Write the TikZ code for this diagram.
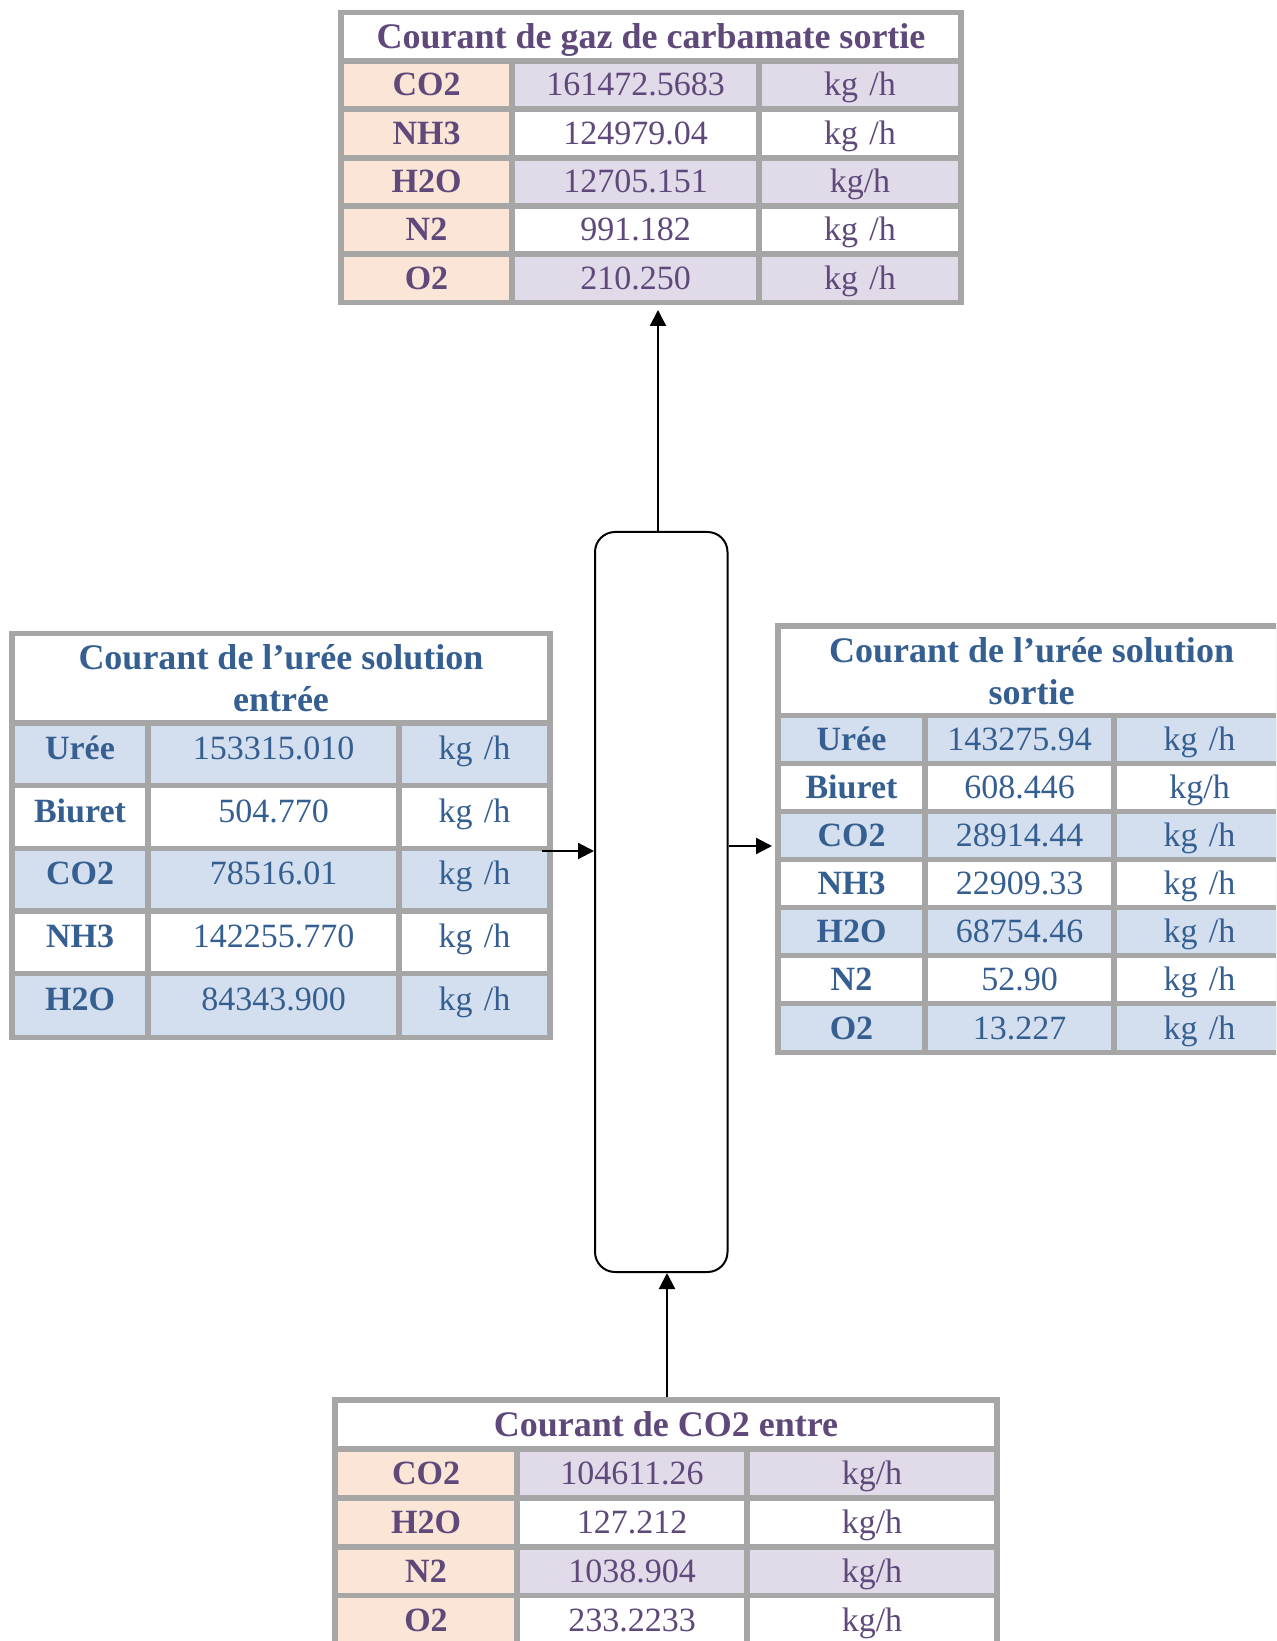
\documentclass[tikz,border=0pt]{standalone}
\usepackage{fontspec}
\setmainfont{Liberation Serif}
\usetikzlibrary{arrows.meta,fit}
\definecolor{gridgray}{HTML}{A6A6A6}
\definecolor{peach}{HTML}{FBE5D6}
\definecolor{lav}{HTML}{E0DAE9}
\definecolor{purp}{HTML}{5F497A}
\definecolor{bluet}{HTML}{365F91}
\definecolor{bluef}{HTML}{D3DFEE}
\newcommand{\kgs}{kg\hspace{0.33em}/h}
\newcommand{\kgn}{kg/h}
\newcommand{\mycell}[8]{%
  \path[fill=#6] (#2+2.75,#3+2.75) rectangle (#4-2.75,#5-2.75);
  \node[#7] (#1) at ({(#2+#4)/2},{(#3+#5)/2}) {#8};
}
\tikzset{
  celltxt/.style={text height=11pt, text depth=0pt},
  ttlP/.style={text height=12pt, text depth=0pt, font=\fontsize{18}{21}\selectfont\bfseries, text=purp, align=center},
  labP/.style={celltxt, font=\fontsize{17}{20}\selectfont\bfseries, text=purp},
  valP/.style={celltxt, font=\fontsize{17}{20}\selectfont, text=purp},
  ttlB/.style={font=\fontsize{18}{21}\selectfont\bfseries, text=bluet, align=center},
  labB/.style={celltxt, font=\fontsize{17}{20}\selectfont\bfseries, text=bluet},
  valB/.style={celltxt, font=\fontsize{17}{20}\selectfont, text=bluet},
  tabbg/.style={inner sep=0pt, fill=gridgray},
  arr/.style={line width=1.1pt, -{Triangle[length=8pt,width=8pt]}},
  column/.style={draw, line width=1pt, rounded corners=10pt, minimum width=66.25pt, minimum height=370pt, inner sep=0pt}
}
\begin{document}
\begin{tikzpicture}[x=0.5pt,y=-0.5pt]
\useasboundingbox (0,0) rectangle (1276,1641);
\clip (0,0) rectangle (1276,1641);
\fill[white] (0,0) rectangle (1276,1641);

% ---------- top table ----------
\coordinate (tT1) at (338.25,9.75);
\coordinate (tT2) at (963.75,305.25);
\node[tabbg, fit=(tT1)(tT2)] (tabT) {};
\mycell{Tt}{341}{12.5}{961}{61}{white}{ttlP}{Courant de gaz de carbamate sortie}
\foreach \ya/\yb/\lab/\val/\un/\f [count=\i] in {
  61/109/CO2/161472.5683/\kgs/lav,
  109/158/NH3/124979.04/\kgs/white,
  158/206/H2O/12705.151/\kgn/lav,
  206/254/N2/991.182/\kgs/white,
  254/302.5/O2/210.250/\kgs/lav}{
  \mycell{Tl\i}{341}{\ya}{512}{\yb}{peach}{labP}{\lab}
  \mycell{Tv\i}{512}{\ya}{759}{\yb}{\f}{valP}{\val}
  \mycell{Tu\i}{759}{\ya}{961}{\yb}{\f}{valP}{\un}
}

% ---------- left table ----------
\coordinate (tL1) at (9.25,630.75);
\coordinate (tL2) at (552.75,1040.25);
\node[tabbg, fit=(tL1)(tL2)] (tabL) {};
\mycell{Lt}{12}{633.5}{550}{723}{white}{ttlB}{Courant de l’urée solution\\entrée}
\foreach \ya/\yb/\lab/\val/\un/\f [count=\i] in {
  723/785.5/Urée/153315.010/\kgs/bluef,
  785.5/848.5/Biuret/504.770/\kgs/white,
  848.5/911/CO2/78516.01/\kgs/bluef,
  911/973.5/NH3/142255.770/\kgs/white,
  973.5/1037.5/H2O/84343.900/\kgs/bluef}{
  \mycell{Ll\i}{12}{\ya}{148}{\yb}{\f}{labB,yshift=3pt}{\lab}
  \mycell{Lv\i}{148}{\ya}{399}{\yb}{\f}{valB,yshift=3pt}{\val}
  \mycell{Lu\i}{399}{\ya}{550}{\yb}{\f}{valB,yshift=3pt}{\un}
}

% ---------- right table ----------
\coordinate (tR1) at (775.25,623.25);
\coordinate (tR2) at (1287.75,1055);
\node[tabbg, fit=(tR1)(tR2)] (tabR) {};
\mycell{Rt}{778}{626}{1285}{715.7}{white}{ttlB}{Courant de l’urée solution\\sortie}
\foreach \ya/\yb/\lab/\val/\un/\f [count=\i] in {
  715.7/763.7/Urée/143275.94/\kgs/bluef,
  763.7/811.7/Biuret/608.446/\kgn/white,
  811.7/859.6/CO2/28914.44/\kgs/bluef,
  859.6/907.7/NH3/22909.33/\kgs/white,
  907.7/955.7/H2O/68754.46/\kgs/bluef,
  955.7/1003.7/N2/52.90/\kgs/white,
  1003.7/1052.3/O2/13.227/\kgs/bluef}{
  \mycell{Rl\i}{778}{\ya}{925}{\yb}{\f}{labB}{\lab}
  \mycell{Rv\i}{925}{\ya}{1114}{\yb}{\f}{valB}{\val}
  \mycell{Ru\i}{1114}{\ya}{1285}{\yb}{\f}{valB}{\un}
}

% ---------- bottom table ----------
\coordinate (tB1) at (332.25,1397.25);
\coordinate (tB2) at (999.75,1647);
\node[tabbg, fit=(tB1)(tB2)] (tabB) {};
\mycell{Bt}{335}{1400}{997}{1449}{white}{ttlP}{Courant de CO2 entre}
\foreach \ya/\yb/\lab/\val/\un/\f [count=\i] in {
  1449/1498/CO2/104611.26/\kgn/lav,
  1498/1547/H2O/127.212/\kgn/white,
  1547/1595.5/N2/1038.904/\kgn/lav,
  1595.5/1644.5/O2/233.2233/\kgn/white}{
  \mycell{Bl\i}{335}{\ya}{517}{\yb}{peach}{labP}{\lab}
  \mycell{Bv\i}{517}{\ya}{747}{\yb}{\f}{valP}{\val}
  \mycell{Bu\i}{747}{\ya}{997}{\yb}{\f}{valP}{\un}
}

% ---------- column ----------
\node[column] (col) at (661.25,902) {};

% ---------- connectors ----------
\coordinate (topIn) at (658,310);
\draw[arr] (col.north -| topIn) -- (topIn);
\coordinate (botOut) at (667,1397.25);
\draw[arr] (botOut) -- (col.south -| botOut);
\coordinate (lOut) at (542,851);
\draw[arr] (lOut) -- (col.west |- lOut);
\coordinate (rIn) at (772,846);
\draw[arr] (col.east |- rIn) -- (rIn);
\end{tikzpicture}
\end{document}
